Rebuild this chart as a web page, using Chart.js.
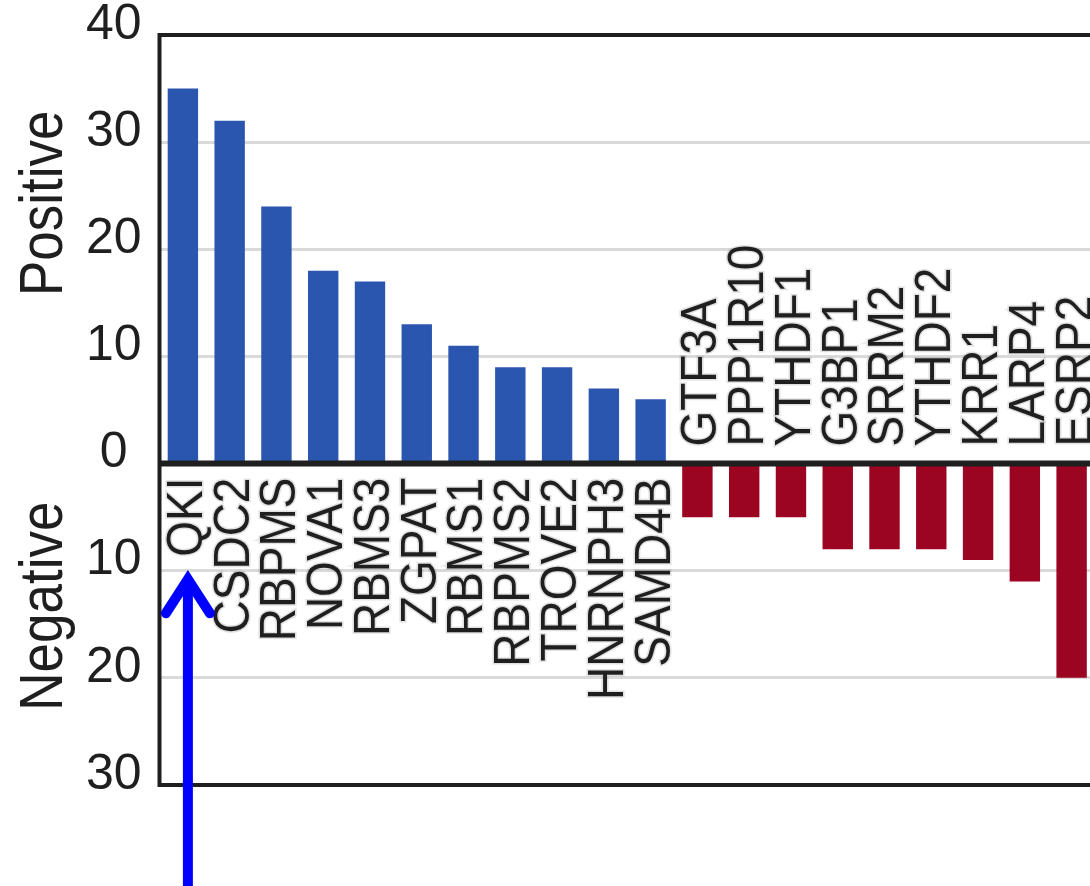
<!DOCTYPE html>
<html>
<head>
<meta charset="utf-8">
<script src="https://cdn.jsdelivr.net/npm/chart.js@4/dist/chart.umd.min.js"></script>
<style>
  html, body { margin: 0; padding: 0; background: #fff; overflow: hidden; }
  #wrap { width: 1095px; height: 886px; }
</style>
</head>
<body>
<div id="wrap"><canvas id="rbpChart"></canvas></div>
<script>
// RNA-binding proteins, positive (enriched) vs negative
const genes = ['QKI', 'CSDC2', 'RBPMS', 'NOVA1', 'RBMS3', 'ZGPAT', 'RBMS1', 'RBPMS2', 'TROVE2', 'HNRNPH3', 'SAMD4B',
               'GTF3A', 'PPP1R10', 'YTHDF1', 'G3BP1', 'SRRM2', 'YTHDF2', 'KRR1', 'LARP4', 'ESRP2'];
const counts = [35, 32, 24, 18, 17, 13, 11, 9, 9, 7, 6,
                -5, -5, -5, -8, -8, -8, -9, -11, -20];
const tickValues = [40, 30, 20, 10, 0, -10, -20, -30];
const gridValues = [30, 20, 10, -10, -20];
const axisTitles = [['Positive', 24.3], ['Negative', -13.3]];

const BLUE = '#2a56b0';
const RED = '#9b0521';
const INK = '#1f1f1f';
const FONT = '"Liberation Sans", Arial, sans-serif';

// frame, zero line, gene names, axis titles and the QKI arrow
const overlay = {
    id: 'overlay',
    afterDatasetsDraw(chart) {
        const { ctx, chartArea: area } = chart;
        const y = chart.scales.y;
        const zero = y.getPixelForValue(0);
        const bars = chart.getDatasetMeta(0).data;

        ctx.save();
        ctx.strokeStyle = INK;
        ctx.lineWidth = 6;
        ctx.beginPath();
        ctx.moveTo(area.left, zero);
        ctx.lineTo(area.right, zero);
        ctx.stroke();

        ctx.lineWidth = 4;
        ctx.strokeRect(area.left, area.top, area.right - area.left + 10, area.bottom - area.top);

        // gene names, rotated, on the opposite side of the zero line
        ctx.font = '46px ' + FONT;
        ctx.textBaseline = 'alphabetic';
        bars.forEach((bar, i) => {
            const up = counts[i] > 0;
            ctx.save();
            ctx.translate(bar.x, up ? zero + 14 : zero - 17);
            ctx.rotate(-Math.PI / 2);
            ctx.scale(1, 1.08);
            ctx.textAlign = up ? 'right' : 'left';
            ctx.strokeStyle = 'rgba(0,0,0,0.12)';
            ctx.lineWidth = 3;
            ctx.strokeText(genes[i], 0, 17.5);
            ctx.fillStyle = INK;
            ctx.fillText(genes[i], 0, 17.5);
            ctx.restore();
        });

        // axis titles
        ctx.font = '53px ' + FONT;
        ctx.fillStyle = INK;
        axisTitles.forEach(([text, v]) => {
            ctx.save();
            ctx.translate(62, y.getPixelForValue(v));
            ctx.rotate(-Math.PI / 2);
            ctx.scale(1, 1.15);
            ctx.textAlign = 'center';
            ctx.fillText(text, 0, 0);
            ctx.restore();
        });

        // arrow pointing at QKI
        const ax = bars[0].x + 5;
        const tip = y.getPixelForValue(-10.8);
        ctx.strokeStyle = '#0000ff';
        ctx.lineWidth = 10;
        ctx.lineCap = 'butt';
        ctx.beginPath();
        ctx.moveTo(ax, chart.height + 10);
        ctx.lineTo(ax, tip);
        ctx.stroke();
        ctx.lineCap = 'round';
        ctx.lineJoin = 'miter';
        ctx.beginPath();
        ctx.moveTo(ax - 22, tip + 34);
        ctx.lineTo(ax, tip);
        ctx.lineTo(ax + 22, tip + 34);
        ctx.stroke();
        ctx.restore();
    }
};

const rbpChart = new Chart(document.getElementById('rbpChart'), {
    type: 'bar',
    data: {
        labels: genes,
        datasets: [{
            data: counts,
            backgroundColor: counts.map(v => v > 0 ? BLUE : RED),
            borderWidth: 0,
            categoryPercentage: 1,
            barPercentage: 0.65,
        }]
    },
    options: {
        responsive: true,
        maintainAspectRatio: false,
        animation: false,
        layout: { padding: { top: 35, bottom: 101, left: 0, right: 0 } },
        plugins: { legend: { display: false }, tooltip: { enabled: false } },
        scales: {
            x: { display: false },
            y: {
                min: -30,
                max: 40,
                afterBuildTicks: scale => { scale.ticks = tickValues.map(v => ({ value: v })); },
                afterFit: scale => {
                    scale.width = 159.5;
                    scale.paddingTop = 0;
                    scale.paddingBottom = 0;
                },
                border: { display: false },
                grid: {
                    drawTicks: false,
                    lineWidth: 3,
                    color: ctx => (ctx.tick && gridValues.includes(ctx.tick.value)) ? '#dadada' : 'rgba(0,0,0,0)',
                },
                ticks: {
                    color: INK,
                    font: { family: FONT, size: 50, lineHeight: 1 },
                    crossAlign: 'center',
                    padding: 18,
                    labelOffset: -10,
                    callback: v => Math.abs(v),
                }
            }
        }
    },
    plugins: [overlay]
});
</script>
</body>
</html>
